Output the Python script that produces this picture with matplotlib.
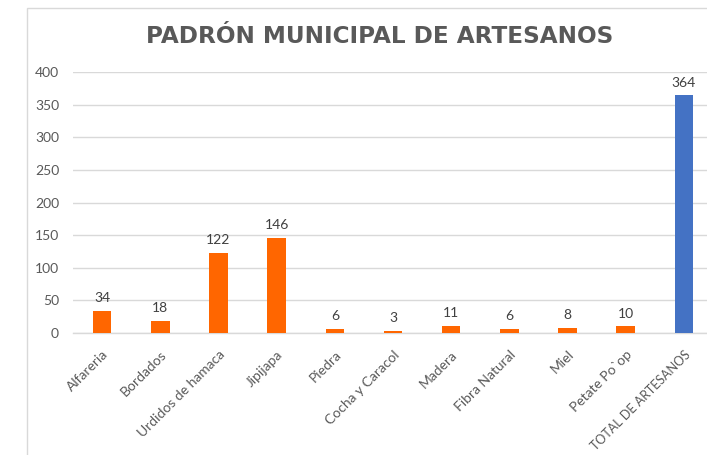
import matplotlib
matplotlib.use("Agg")
import matplotlib.pyplot as plt
from matplotlib.patches import Rectangle

categories = ["Alfareria", "Bordados", "Urdidos de hamaca", "Jipijapa", "Piedra",
              "Cocha y Caracol", "Madera", "Fibra Natural", "Miel", "Petate Po`op",
              "TOTAL DE ARTESANOS"]
values = [34, 18, 122, 146, 6, 3, 11, 6, 8, 10, 364]
bar_colors = ["#FF6600"] * 10 + ["#4472C4"]
yticks = [0, 50, 100, 150, 200, 250, 300, 350, 400]
title = "PADRÓN MUNICIPAL DE ARTESANOS"

W, H = 707, 455
fig = plt.figure(figsize=(W / 100, H / 100), dpi=100)
fig.patch.set_facecolor("white")

# chart border
fig.add_artist(Rectangle((27 / W, -0.1), 1.2, (H - 8) / H + 0.1, transform=fig.transFigure,
                         fill=False, edgecolor="#d9d9d9", linewidth=1.0))

ax = fig.add_axes([73 / W, (H - 333) / H, 640 / W, (333 - 72) / H])
x = list(range(len(categories)))
ax.bar(x, values, width=0.32, color=bar_colors, zorder=3)
ax.set_xlim(-0.5, len(categories) - 0.5)
ax.set_ylim(0, 400)
ax.set_yticks(yticks)
ax.set_yticklabels([str(t) for t in yticks])
ax.yaxis.grid(True, color="#d9d9d9", linewidth=1.0, zorder=0)
ax.set_axisbelow(True)
for s in ["top", "right", "left"]:
    ax.spines[s].set_visible(False)
ax.spines["bottom"].set_color("#d9d9d9")
ax.spines["bottom"].set_linewidth(1.0)
ax.tick_params(axis="both", length=0, colors="#595959")
ax.tick_params(axis="y", pad=10, labelsize=10)
ax.tick_params(axis="x", pad=11)
ax.set_xticks(x)
ax.set_xticklabels(categories, rotation=45, ha="right", rotation_mode="anchor",
                   fontsize=10, color="#595959")
for lbl in ax.get_xticklabels():
    lbl.set_fontfamily("Lato")
ax.get_xticklabels()[-1].set_fontsize(9.0)
for lbl in ax.get_yticklabels():
    lbl.set_fontfamily("Lato")

for xi, v in zip(x, values):
    ax.annotate(str(v), (xi, v), xytext=(0, 5), textcoords="offset points",
                ha="center", va="bottom", fontsize=10, color="#404040",
                fontfamily="Lato")

fig.text(379.5 / W, 1 - 43 / H, title, ha="center", va="baseline", fontsize=16.7,
         fontweight="bold", color="#595959", fontfamily="DejaVu Sans")

fig.savefig("out.png", dpi=100)
